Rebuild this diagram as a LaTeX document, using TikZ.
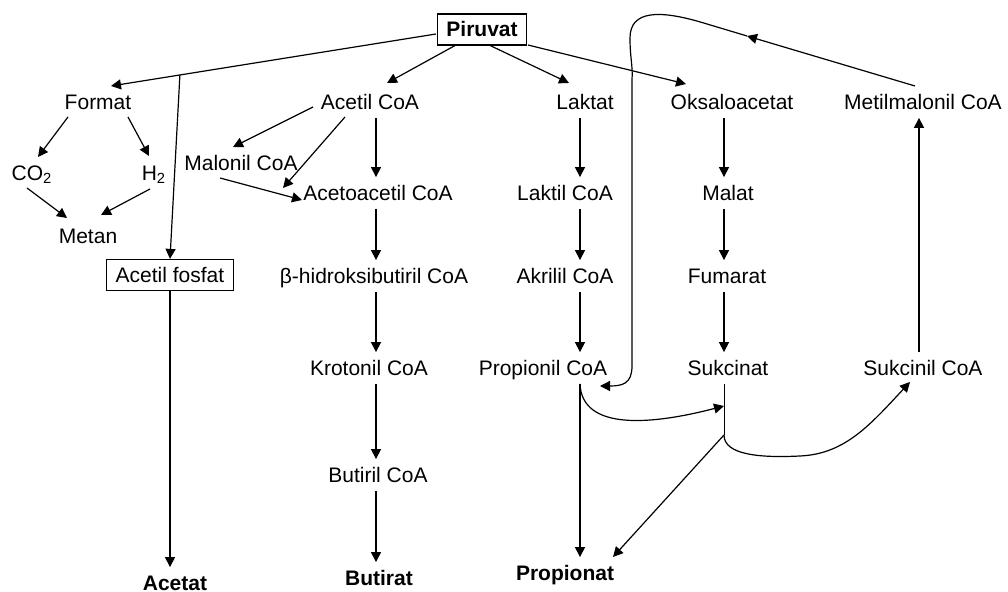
\documentclass[tikz,border=0pt]{standalone}
\usepackage{fontspec}
\setmainfont{Liberation Sans}
\usetikzlibrary{arrows.meta, calc}

\begin{document}
\begin{tikzpicture}[
    x=0.5pt, y=-0.5pt,
    met/.style={inner xsep=1pt, inner ysep=4pt, text height=7.5pt, text depth=0pt, font=\fontsize{10.5}{12}\selectfont},
    box/.style={met, draw, inner xsep=4.5pt, line width=0.6pt},
    bold/.style={font=\fontsize{10.5}{12}\selectfont\bfseries},
    prod/.style={met, bold},
    arr/.style={-{Triangle[length=5pt, width=5pt]}, line width=0.6pt}
]
\useasboundingbox (0,0) rectangle (1008,592);

\node[box, bold] (piruvat) at (482,29.5) {Piruvat};
\node[met] (format) at (98,102) {Format};
\node[met] (co2) at (32,173) {CO\textsubscript{2}};
\node[met] (h2) at (154,173) {H\textsubscript{2}};
\node[met] (metan) at (88,236) {Metan};
\node[box] (fosfat) at (170,275) {Acetil fosfat};
\node[prod] (acetat) at (175,583) {Acetat};
\node[met] (acetilcoa) at (370,102) {Acetil CoA};
\node[met] (malonil) at (241,163) {Malonil CoA};
\node[met] (acetoacetil) at (378,193) {Acetoacetil CoA};
\node[met] (hidroksi) at (374,276) {β-hidroksibutiril CoA};
\node[met] (krotonil) at (369,368) {Krotonil CoA};
\node[met] (butiril) at (378,475) {Butiril CoA};
\node[prod] (butirat) at (379,578) {Butirat};
\node[met] (laktat) at (585,102) {Laktat};
\node[met] (laktil) at (565,193) {Laktil CoA};
\node[met] (akrilil) at (565,276) {Akrilil CoA};
\node[met] (propionil) at (543,368) {Propionil CoA};
\node[prod] (propionat) at (565,573) {Propionat};
\node[met] (oksalo) at (732,102) {Oksaloacetat};
\node[met] (malat) at (728,193) {Malat};
\node[met] (fumarat) at (727,276) {Fumarat};
\node[met] (sukcinat) at (728,368) {Sukcinat};
\node[met] (metil) at (923,102) {Metilmalonil CoA};
\node[met] (sukcinil) at (923,368) {Sukcinil CoA};

\coordinate (colA) at (376,0);
\coordinate (colL) at (580,0);
\coordinate (colO) at (724,0);
\coordinate (colM) at (919,0);

\draw[arr] ($(piruvat)+(-46,4.5)$) -- coordinate[pos=0.788] (fork) ($(format)+(13,-16)$);
\draw[arr] (fork) -- (fosfat.north);
\draw[arr] ($(piruvat)+(-26,15.5)$) -- ($(acetilcoa)+(17,-19)$);
\draw[arr] ($(piruvat)+(7,15.5)$) -- ($(laktat)+(-16,-19)$);
\draw[arr] ($(piruvat)+(46,15.5)$) -- ($(oksalo)+(-46,-18)$);

\draw[arr] ($(format)+(-30,15)$) -- ($(co2)+(6,-16)$);
\draw[arr] ($(format)+(30,15)$) -- ($(h2)+(-5,-17)$);
\draw[arr] ($(co2)+(-5,15)$) -- ($(metan)+(-21,-18)$);
\draw[arr] ($(h2)+(-4,16)$) -- ($(metan)+(13,-21)$);
\draw[arr] (fosfat.south) -- (fosfat.south |- acetat.north);

\draw[arr] ($(acetilcoa)+(-57,5)$) -- ($(malonil)+(-8,-16)$);
\draw[arr] ($(acetilcoa)+(-25,15)$) -- ($(acetoacetil)+(-95,-5)$);
\draw[arr] ($(malonil)+(-21,15)$) -- ($(acetoacetil)+(-76,7)$);

\foreach \a/\b in {acetilcoa/acetoacetil, acetoacetil/hidroksi, hidroksi/krotonil, krotonil/butiril, butiril/butirat}
  \draw[arr] (\a.south -| colA) -- (\b.north -| colA);
\foreach \a/\b in {laktat/laktil, laktil/akrilil, akrilil/propionil, propionil/propionat}
  \draw[arr] (\a.south -| colL) -- (\b.north -| colL);
\foreach \a/\b in {oksalo/malat, malat/fumarat, fumarat/sukcinat}
  \draw[arr] (\a.south -| colO) -- (\b.north -| colO);
\draw[arr] (sukcinil.north -| colM) -- (metil.south -| colM);

\draw[arr] (propionil.south -| colL) .. controls +(2,47) and +(-73,19) .. ($(sukcinat)+(-4,38)$);
\coordinate (split) at ($(sukcinat)+(-4,67)$);
\draw (sukcinat.south -| colO) -- (split);
\draw[arr] (split) -- ($(propionat)+(48,-16)$);
\draw[arr] (split) .. controls +(0,20) and +(-40,2) .. ($(sukcinat)+(72,88)$)
  .. controls +(45,-2) and +(-40,43) .. ($(sukcinil)+(-13,14)$);

\draw[arr] ($(metil)+(-8,-16)$) -- ($(metil)+(-176,-66)$) coordinate (loopmid);
\draw[arr] (loopmid) -- (702,22.5) .. controls (660,10) and (630,10) .. (630,38)
  .. controls (630,58) and (633,66) .. (632,80) -- (632,366)
  .. controls (632,384) and (622,386) .. ($(propionil)+(57,18)$);
\end{tikzpicture}
\end{document}
